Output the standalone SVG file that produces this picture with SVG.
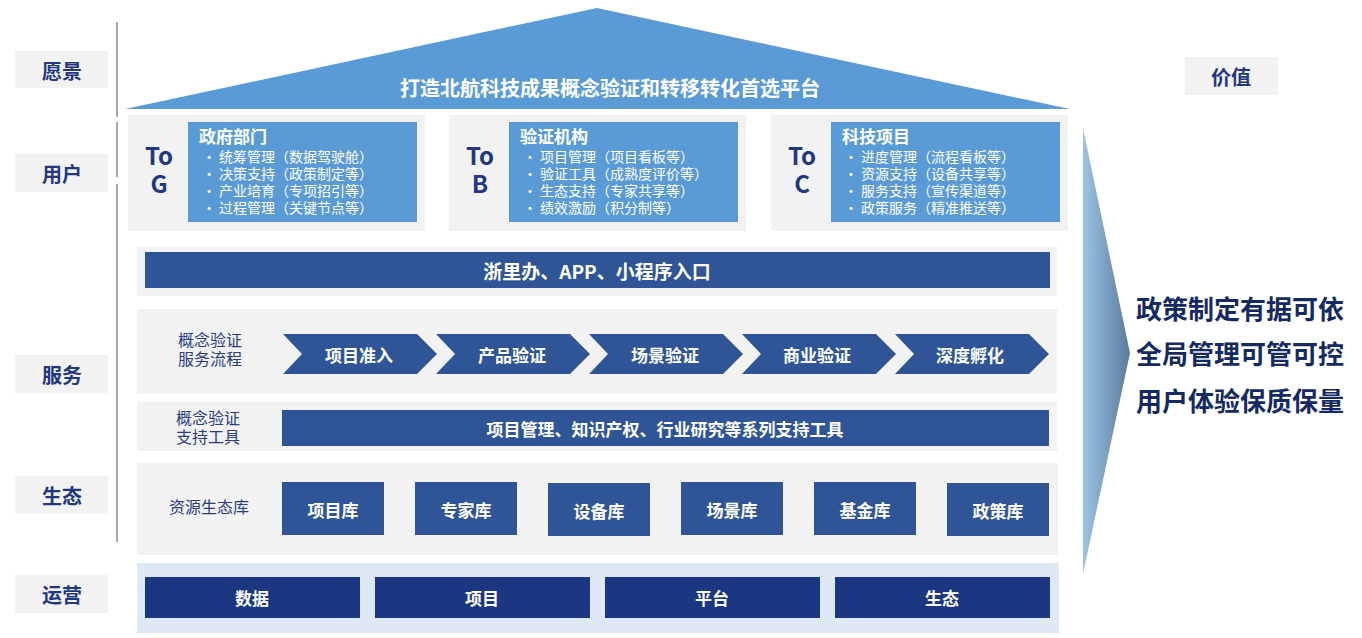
<svg xmlns="http://www.w3.org/2000/svg" width="1362" height="638" viewBox="0 0 1362 638">
<style>
text{font-family:"Noto Sans CJK SC","Noto Sans",sans-serif}
.lbl{fill:#f2f2f2}
.lt{font-size:20px;font-weight:700;fill:#1f3880;text-anchor:middle;dominant-baseline:central}
.gray{fill:#f2f2f2}
.lblue{fill:#5b9bd5}
.bar{fill:#2f5597}
.navy{fill:#1b3782}
.wt{fill:#fff;font-weight:700;text-anchor:middle;dominant-baseline:central}
.to{font-size:24px;font-weight:700;fill:#1f3880;text-anchor:middle}
.ttl{font-size:17px;font-weight:700;fill:#fff}
.it{font-size:14px;fill:#fff}
.sub{font-size:16px;fill:#2a3d80;text-anchor:middle}
.val{font-size:26px;font-weight:700;fill:#152a63}
.axis{stroke:#a6a6a6;stroke-width:2}
</style>
<defs>
<linearGradient id="ag" x1="0" y1="0" x2="1" y2="0">
<stop offset="0" stop-color="#9dc3e6"/>
<stop offset="1" stop-color="#587b9c"/>
</linearGradient>
</defs>
<rect width="1362" height="638" fill="#fff"/>

<g id="axis">
<line class="axis" x1="117" y1="22" x2="117" y2="117"/>
<line class="axis" x1="117" y1="122" x2="117" y2="177"/>
<line class="axis" x1="117" y1="184" x2="117" y2="542"/>
</g>

<g id="label-vision"><rect class="lbl" x="15" y="51" width="93" height="37"/><text class="lt" x="62" y="70">愿景</text></g>
<g id="label-user"><rect class="lbl" x="15" y="154" width="93" height="38"/><text class="lt" x="62" y="173">用户</text></g>
<g id="label-service"><rect class="lbl" x="15" y="355" width="93" height="38"/><text class="lt" x="62" y="374">服务</text></g>
<g id="label-eco"><rect class="lbl" x="15" y="476" width="93" height="38"/><text class="lt" x="62" y="495">生态</text></g>
<g id="label-ops"><rect class="lbl" x="15" y="575" width="93" height="38"/><text class="lt" x="62" y="594">运营</text></g>
<g id="label-value"><rect class="lbl" x="1185" y="57" width="93" height="38"/><text class="lt" x="1231" y="76">价值</text></g>

<g id="roof">
<polygon class="lblue" points="125,109 597,8 1070,109"/>
<text class="wt" x="610" y="87" font-size="20">打造北航科技成果概念验证和转移转化首选平台</text>
</g>

<g id="user-tog">
<rect class="gray" x="128" y="115" width="297" height="116"/>
<rect class="lblue" x="188" y="122" width="229" height="100"/>
<text class="to"><tspan x="159" y="165">To</tspan><tspan x="159" y="193">G</tspan></text>
<text class="ttl" x="199" y="143">政府部门</text>
<text class="it">
<tspan x="202" y="162">•</tspan><tspan x="219" y="162">统筹管理（数据驾驶舱）</tspan>
<tspan x="202" y="179">•</tspan><tspan x="219" y="179">决策支持（政策制定等）</tspan>
<tspan x="202" y="196">•</tspan><tspan x="219" y="196">产业培育（专项招引等）</tspan>
<tspan x="202" y="213">•</tspan><tspan x="219" y="213">过程管理（关键节点等）</tspan>
</text>
</g>

<g id="user-tob">
<rect class="gray" x="449" y="115" width="297" height="116"/>
<rect class="lblue" x="509" y="122" width="229" height="100"/>
<text class="to"><tspan x="480" y="165">To</tspan><tspan x="480" y="193">B</tspan></text>
<text class="ttl" x="520" y="143">验证机构</text>
<text class="it">
<tspan x="523" y="162">•</tspan><tspan x="540" y="162">项目管理（项目看板等）</tspan>
<tspan x="523" y="179">•</tspan><tspan x="540" y="179">验证工具（成熟度评价等）</tspan>
<tspan x="523" y="196">•</tspan><tspan x="540" y="196">生态支持（专家共享等）</tspan>
<tspan x="523" y="213">•</tspan><tspan x="540" y="213">绩效激励（积分制等）</tspan>
</text>
</g>

<g id="user-toc">
<rect class="gray" x="771" y="115" width="297" height="116"/>
<rect class="lblue" x="831" y="122" width="229" height="100"/>
<text class="to"><tspan x="802" y="165">To</tspan><tspan x="802" y="193">C</tspan></text>
<text class="ttl" x="842" y="143">科技项目</text>
<text class="it">
<tspan x="844" y="162">•</tspan><tspan x="861" y="162">进度管理（流程看板等）</tspan>
<tspan x="844" y="179">•</tspan><tspan x="861" y="179">资源支持（设备共享等）</tspan>
<tspan x="844" y="196">•</tspan><tspan x="861" y="196">服务支持（宣传渠道等）</tspan>
<tspan x="844" y="213">•</tspan><tspan x="861" y="213">政策服务（精准推送等）</tspan>
</text>
</g>

<g id="entry">
<rect class="gray" x="137" y="247" width="920" height="49"/>
<rect class="bar" x="145" y="252" width="905" height="36"/>
<text class="wt" x="597" y="270" font-size="19">浙里办、APP、小程序入口</text>
</g>

<g id="process">
<rect class="gray" x="137" y="309" width="920" height="85"/>
<text class="sub"><tspan x="210" y="346">概念验证</tspan><tspan x="210" y="365">服务流程</tspan></text>
<g id="step1"><polygon class="bar" points="283,334 417,334 437,354 417,374 283,374 302,354"/><text class="wt" x="359" y="354" font-size="17">项目准入</text></g>
<g id="step2"><polygon class="bar" points="436,334 570,334 590,354 570,374 436,374 455,354"/><text class="wt" x="512" y="354" font-size="17">产品验证</text></g>
<g id="step3"><polygon class="bar" points="589,334 723,334 743,354 723,374 589,374 608,354"/><text class="wt" x="665" y="354" font-size="17">场景验证</text></g>
<g id="step4"><polygon class="bar" points="742,334 876,334 896,354 876,374 742,374 761,354"/><text class="wt" x="817" y="354" font-size="17">商业验证</text></g>
<g id="step5"><polygon class="bar" points="895,334 1029,334 1049,354 1029,374 895,374 914,354"/><text class="wt" x="970" y="354" font-size="17">深度孵化</text></g>
</g>

<g id="tools">
<rect class="gray" x="137" y="402" width="920" height="49"/>
<text class="sub"><tspan x="208" y="424">概念验证</tspan><tspan x="208" y="443">支持工具</tspan></text>
<rect class="bar" x="282" y="410" width="767" height="36"/>
<text class="wt" x="665" y="428" font-size="17">项目管理、知识产权、行业研究等系列支持工具</text>
</g>

<g id="ecology">
<rect class="gray" x="137" y="463" width="921" height="92"/>
<text class="sub" x="209" y="513">资源生态库</text>
<g id="lib1"><rect class="bar" x="282" y="482" width="102" height="53"/><text class="wt" x="333" y="509" font-size="17">项目库</text></g>
<g id="lib2"><rect class="bar" x="415" y="482" width="102" height="53"/><text class="wt" x="466" y="509" font-size="17">专家库</text></g>
<g id="lib3"><rect class="bar" x="548" y="483" width="102" height="53"/><text class="wt" x="599" y="510" font-size="17">设备库</text></g>
<g id="lib4"><rect class="bar" x="681" y="482" width="102" height="53"/><text class="wt" x="732" y="509" font-size="17">场景库</text></g>
<g id="lib5"><rect class="bar" x="814" y="482" width="102" height="53"/><text class="wt" x="865" y="509" font-size="17">基金库</text></g>
<g id="lib6"><rect class="bar" x="947" y="483" width="102" height="53"/><text class="wt" x="998" y="510" font-size="17">政策库</text></g>
</g>

<g id="operations">
<rect fill="#dee9f5" x="137" y="563" width="922" height="70"/>
<g id="op1"><rect class="navy" x="145" y="577" width="215" height="41"/><text class="wt" x="252" y="597" font-size="17">数据</text></g>
<g id="op2"><rect class="navy" x="375" y="577" width="215" height="41"/><text class="wt" x="482" y="597" font-size="17">项目</text></g>
<g id="op3"><rect class="navy" x="605" y="577" width="215" height="41"/><text class="wt" x="712" y="597" font-size="17">平台</text></g>
<g id="op4"><rect class="navy" x="835" y="577" width="215" height="41"/><text class="wt" x="942" y="597" font-size="17">生态</text></g>
</g>

<g id="connectors">
<polygon fill="url(#ag)" points="1083,128 1130,353 1083,574"/>
</g>

<g id="values">
<text class="val" x="1136" y="319">政策制定有据可依</text>
<text class="val" x="1136" y="364">全局管理可管可控</text>
<text class="val" x="1136" y="411">用户体验保质保量</text>
</g>
</svg>
